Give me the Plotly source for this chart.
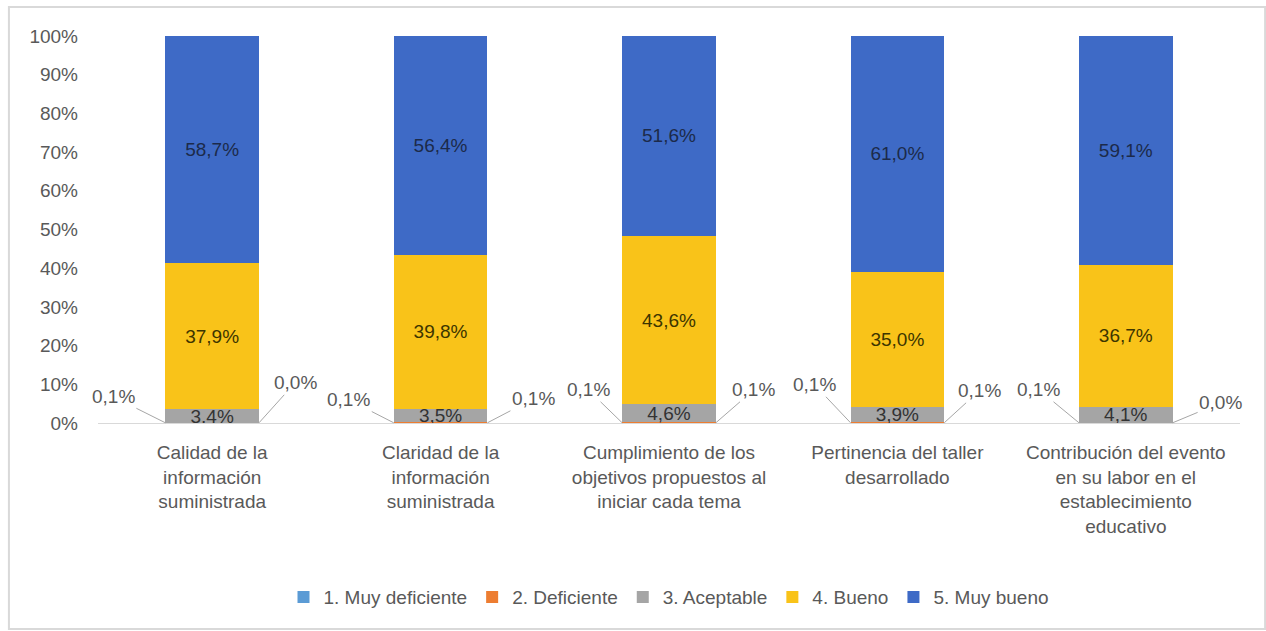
import plotly.graph_objects as go

# Survey results per evaluated aspect (percent of responses)
categories = [
    "Calidad de la<br>información<br>suministrada",
    "Claridad de la<br>información<br>suministrada",
    "Cumplimiento de los<br>objetivos propuestos al<br>iniciar cada tema",
    "Pertinencia del taller<br>desarrollado",
    "Contribución del evento<br>en su labor en el<br>establecimiento<br>educativo",
]
series_names = ["1. Muy deficiente", "2. Deficiente", "3. Aceptable", "4. Bueno", "5. Muy bueno"]
muy_deficiente = [0.1, 0.1, 0.1, 0.1, 0.1]
deficiente = [0.0, 0.1, 0.1, 0.1, 0.0]
aceptable = [3.4, 3.5, 4.6, 3.9, 4.1]
bueno = [37.9, 39.8, 43.6, 35.0, 36.7]
muy_bueno = [58.7, 56.4, 51.6, 61.0, 59.1]
y_ticks = [0, 10, 20, 30, 40, 50, 60, 70, 80, 90, 100]
y_tick_labels = [f"{t}%" for t in y_ticks]

FONT = "Liberation Sans Narrow, Arial Narrow, Liberation Sans, sans-serif"
FS = 19
colors = ["#5b9bd5", "#ed7d31", "#a5a5a5", "#f9c319", "#3e6ac6"]
text_colors = ["#404040", "#404040", "#333333", "#3d3500", "#1c2a4a"]
values = [muy_deficiente, deficiente, aceptable, bueno, muy_bueno]


def pct(v):
    return f"{v:.1f}%".replace(".", ",")


fig = go.Figure()
for i, (name, vals) in enumerate(zip(series_names, values)):
    show_text = i >= 2
    fig.add_trace(go.Bar(
        name=name,
        x=categories,
        y=vals,
        marker=dict(color=colors[i], line=dict(width=0)),
        text=[pct(v) for v in vals] if show_text else None,
        textposition="inside" if show_text else "none",
        insidetextanchor="middle",
        textfont=dict(family=FONT, size=FS, color=text_colors[i]),
        hoverinfo="skip",
    ))

# Callout labels for the tiny segments (left: Muy deficiente, right: Deficiente)
half_bar = 0.205
left_offsets = [(-52, -26), (-45, -23), (-34, -33), (-36, -38), (-40, -33)]
right_offsets = [(36, -40), (46, -24), (38, -33), (35, -32), (48, -20)]
for i in range(len(categories)):
    for vals, xpos, (ax, ay) in (
        (muy_deficiente, i - half_bar, left_offsets[i]),
        (deficiente, i + half_bar, right_offsets[i]),
    ):
        fig.add_annotation(
            x=xpos, y=0.05, xref="x", yref="y",
            text=pct(vals[i]), showarrow=True, arrowhead=0,
            arrowwidth=1, arrowcolor="#a6a6a6", ax=ax, ay=ay,
            font=dict(family=FONT, size=FS, color="#595959"),
        )

# Outer chart frame
fig.add_shape(type="rect", xref="paper", yref="paper",
              x0=-0.078, x1=1.022, y0=-0.532, y1=1.075,
              line=dict(color="#d9d9d9", width=2), layer="below")

fig.update_layout(
    barmode="stack",
    bargap=0.59,
    width=1266, height=631,
    margin=dict(l=98, r=26, t=36, b=208, autoexpand=False),
    paper_bgcolor="white", plot_bgcolor="white",
    font=dict(family=FONT, size=FS, color="#595959"),
    uniformtext=dict(mode="show", minsize=FS),
    showlegend=True,
    legend=dict(orientation="h", x=0.5, xanchor="center", y=-0.45, yanchor="middle",
                font=dict(family=FONT, size=FS, color="#595959"),
                traceorder="normal", itemwidth=30),
    xaxis=dict(range=[-0.5, len(categories) - 0.5], showline=True, linecolor="#d9d9d9",
               linewidth=1, ticks="", ticklabelstandoff=12, automargin=False,
               tickfont=dict(family=FONT, size=FS, color="#595959"), fixedrange=True),
    yaxis=dict(range=[0, 100], tickmode="array", tickvals=y_ticks, ticktext=y_tick_labels,
               showgrid=False, zeroline=False, showline=False, ticks="",
               ticklabelstandoff=19, automargin=False,
               tickfont=dict(family=FONT, size=FS, color="#595959"), fixedrange=True),
)

fig.write_html("out.html")
